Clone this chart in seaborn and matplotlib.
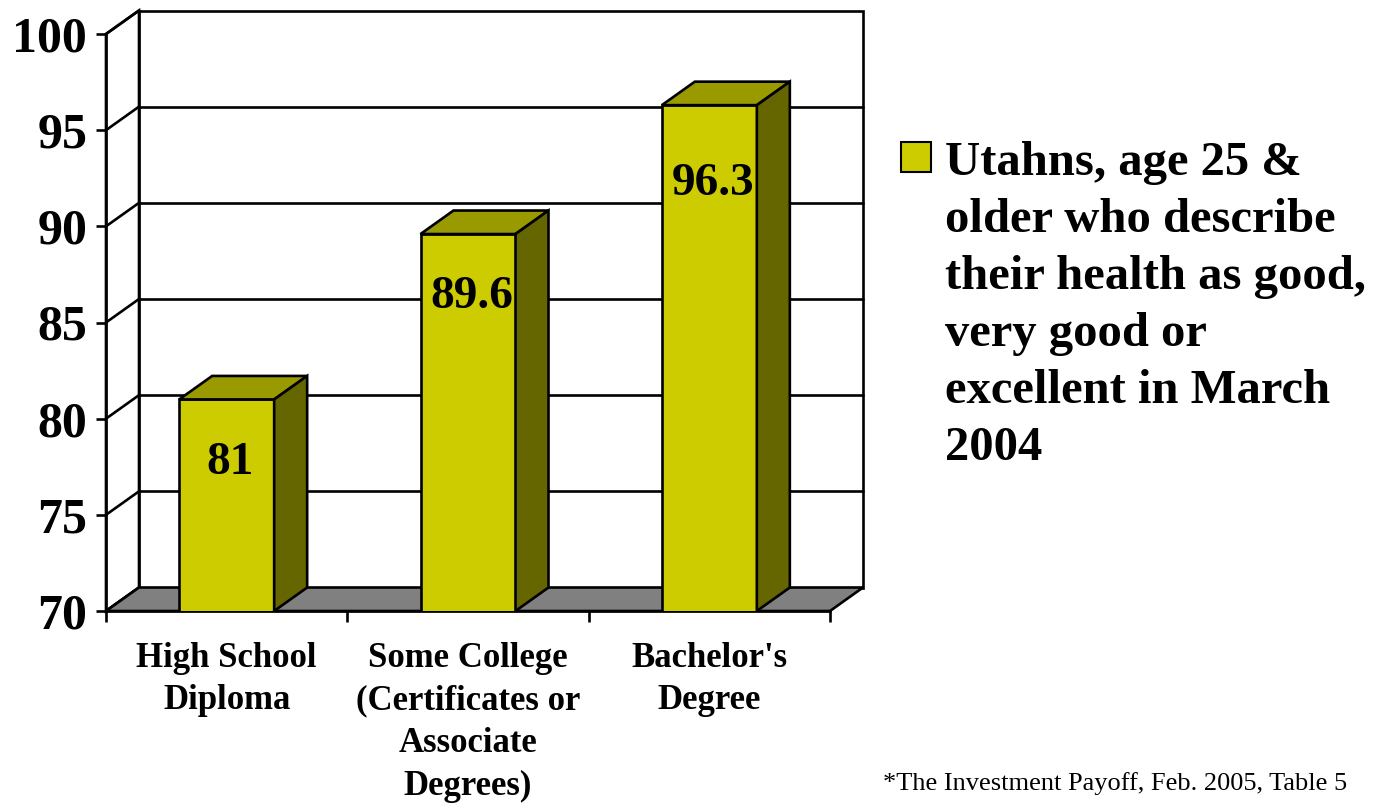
import matplotlib
matplotlib.use("Agg")
import matplotlib.pyplot as plt
import pandas as pd
import seaborn as sns
from matplotlib.patches import Polygon, Rectangle

# --- data -------------------------------------------------------------------
categories = [
    "High School\nDiploma",
    "Some College\n(Certificates or\nAssociate\nDegrees)",
    "Bachelor's\nDegree",
]
values = [81, 89.6, 96.3]
y_ticks = [70, 75, 80, 85, 90, 95, 100]
series_label = ("Utahns, age 25 &\nolder who describe\ntheir health as good,\n"
                "very good or\nexcellent in March\n2004")
source_note = "*The Investment Payoff, Feb. 2005, Table 5"

# --- style ------------------------------------------------------------------
FRONT = "#CCCC00"
TOP = "#999900"
SIDE = "#666600"
FLOOR = "#808080"
LW = 1.9

sns.set_theme(style="white")
plt.rcParams["font.family"] = ["Liberation Serif", "DejaVu Serif"]
plt.rcParams["text.color"] = "black"

W, H = 1377, 806
fig = plt.figure(figsize=(W / 100, H / 100), dpi=100)
# front plane of the 3-D box
ax_l, ax_r, ax_t, ax_b = 106, 830, 34, 611
ax = fig.add_axes([ax_l / W, 1 - ax_b / H, (ax_r - ax_l) / W, (ax_b - ax_t) / H])
ax.patch.set_visible(False)

ymin, ymax = y_ticks[0], y_ticks[-1]
ax.set_xlim(-0.5, len(categories) - 0.5)
ax.set_ylim(ymin, ymax)

# depth offset of the 3-D look, expressed in data units
px_x = (ax_r - ax_l) / len(categories)
px_y = (ax_b - ax_t) / (ymax - ymin)
DX = 33 / px_x
DY = 23.5 / px_y
x0, x1 = -0.5, len(categories) - 0.5

# back wall, left wall and floor
ax.add_patch(Rectangle((x0 + DX, ymin + DY), x1 - x0, ymax - ymin,
                       facecolor="white", edgecolor="black", lw=LW,
                       clip_on=False, zorder=0.5))
ax.add_patch(Polygon([(x0, ymin), (x0 + DX, ymin + DY), (x0 + DX, ymax + DY), (x0, ymax)],
                     closed=True, facecolor="white", edgecolor="black", lw=LW,
                     clip_on=False, zorder=0.6))
for t in y_ticks[1:-1]:
    ax.plot([x0 + DX, x1 + DX], [t + DY, t + DY], color="black", lw=LW,
            clip_on=False, zorder=0.8)
for t in y_ticks:
    ax.plot([x0, x0 + DX], [t, t + DY], color="black", lw=LW,
            clip_on=False, zorder=0.8)
ax.add_patch(Polygon([(x0, ymin), (x1, ymin), (x1 + DX, ymin + DY), (x0 + DX, ymin + DY)],
                     closed=True, facecolor=FLOOR, edgecolor="black", lw=LW,
                     clip_on=False, zorder=1))

# front faces of the bars
df = pd.DataFrame({"category": categories, "value": values})
sns.barplot(data=df, x="category", y="value", color=FRONT, saturation=1,
            width=95 / px_x, edgecolor="black", linewidth=LW, ax=ax, zorder=3)

# top and side faces, plus value labels
for bar, v in zip(ax.containers[0], values):
    bx, bw = bar.get_x(), bar.get_width()
    ax.add_patch(Polygon([(bx, v), (bx + DX, v + DY), (bx + bw + DX, v + DY), (bx + bw, v)],
                         closed=True, facecolor=TOP, edgecolor="black", lw=LW, zorder=3))
    ax.add_patch(Polygon([(bx + bw, ymin), (bx + bw + DX, ymin + DY),
                          (bx + bw + DX, v + DY), (bx + bw, v)],
                         closed=True, facecolor=SIDE, edgecolor="black", lw=LW, zorder=3))
    drop = 4.1 if v > 95 else 3.3
    ax.text(bx + bw / 2 + 0.015, v - drop, f"{v:g}", ha="center", va="center",
            fontsize=34, fontweight="bold", color="black", zorder=4)

# axes, ticks and labels
for side in ("top", "right"):
    ax.spines[side].set_visible(False)
for side in ("left", "bottom"):
    ax.spines[side].set_visible(True)
    ax.spines[side].set_color("black")
    ax.spines[side].set_linewidth(LW)
    ax.spines[side].set_zorder(2)

ax.set_yticks(y_ticks)
ax.tick_params(axis="y", direction="out", length=7.5, width=LW, pad=6,
               labelsize=36, colors="black", left=True)
for lbl in ax.get_yticklabels():
    lbl.set_fontweight("bold")

ax.set_xticks([x0 + i for i in range(len(categories) + 1)])
ax.set_xticklabels([])
ax.set_xticks(range(len(categories)), minor=True)
ax.set_xticklabels(categories, minor=True)
ax.tick_params(axis="x", which="major", direction="out", length=8, width=LW,
               bottom=True, colors="black")
ax.tick_params(axis="x", which="minor", length=0, pad=22, labelsize=25,
               labelcolor="black")
for lbl in ax.get_xticklabels(minor=True):
    lbl.set_fontweight("bold")
    lbl.set_linespacing(1.39)
    lbl.set_multialignment("center")
    lbl.set_color("black")
ax.set_xlabel("")
ax.set_ylabel("")

# legend
fig.add_artist(Rectangle((901 / W, 1 - 172 / H), 30 / W, 30 / H,
                         transform=fig.transFigure, facecolor=FRONT,
                         edgecolor="black", lw=1.5))
fig.text(945 / W, 1 - 141 / H, series_label, ha="left", va="top",
         fontsize=35, fontweight="bold", linespacing=1.38, color="black")

# source note
fig.text(883 / W, 1 - 790 / H, source_note, ha="left", va="baseline",
         fontsize=19, color="black")

fig.savefig("out.png", dpi=100)
